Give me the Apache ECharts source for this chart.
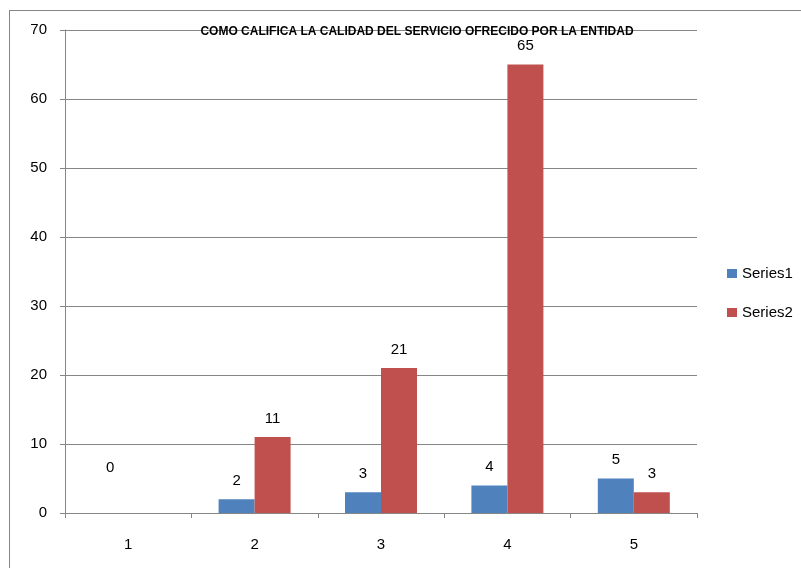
<!DOCTYPE html>
<html>
<head>
<meta charset="utf-8">
<script src="https://cdn.jsdelivr.net/npm/echarts@6/dist/echarts.min.js"></script>
<style>
  html, body { margin: 0; padding: 0; background: #fff; }
  #chart { width: 801px; height: 568px; }
</style>
</head>
<body>
<div id="chart"></div>
<script>
// Survey results: quality rating of the service offered by the entity
const chartTitle = 'COMO CALIFICA LA CALIDAD DEL SERVICIO OFRECIDO POR LA ENTIDAD';
const categories = ['1', '2', '3', '4', '5'];
const series1Values = [0, 2, 3, 4, 5];
const series2Values = [null, 11, 21, 65, 3];
const yTicks = { min: 0, max: 70, interval: 10 };

const FONT = '"Liberation Sans", Arial, sans-serif';

// Zero-height bars get their label lifted a bit higher so it stays readable
function toData(values) {
  return values.map(v => (v === 0 ? { value: v, label: { distance: 38 } } : v));
}

const chart = echarts.init(document.getElementById('chart'), null, { renderer: 'canvas' });

const labelStyle = {
  show: true,
  position: 'top',
  distance: 11,
  color: '#000',
  fontSize: 15,
  fontFamily: FONT
};

chart.setOption({
  animation: false,
  textStyle: { fontFamily: FONT },
  title: {
    text: chartTitle,
    left: 412,
    top: 21,
    textAlign: 'center',
    textStyle: { fontSize: 12, fontWeight: 'bold', color: '#000', fontFamily: FONT }
  },
  legend: {
    orient: 'vertical',
    left: 722,
    top: 261,
    itemWidth: 10,
    itemHeight: 9,
    itemGap: 24,
    icon: 'rect',
    textStyle: { fontSize: 15, color: '#000', fontFamily: FONT },
    data: ['Series1', 'Series2']
  },
  grid: { left: 65, right: 104, top: 30, bottom: 55, containLabel: false },
  xAxis: {
    type: 'category',
    data: categories,
    boundaryGap: true,
    axisLine: { lineStyle: { color: '#868686', width: 1 } },
    axisTick: { show: true, length: 5, alignWithLabel: false, lineStyle: { color: '#868686' } },
    axisLabel: { color: '#000', fontSize: 15, margin: 24, fontFamily: FONT },
    splitLine: { show: false }
  },
  yAxis: {
    type: 'value',
    min: yTicks.min,
    max: yTicks.max,
    interval: yTicks.interval,
    axisLine: { show: true, lineStyle: { color: '#868686', width: 1 } },
    axisTick: { show: true, length: 5, lineStyle: { color: '#868686' } },
    axisLabel: { color: '#000', fontSize: 15, margin: 18, fontFamily: FONT },
    splitLine: { show: true, lineStyle: { color: '#868686', width: 1 } }
  },
  series: [
    {
      name: 'Series1',
      type: 'bar',
      data: toData(series1Values),
      barWidth: 36,
      barGap: '0%',
      itemStyle: { color: '#4F81BD' },
      label: labelStyle
    },
    {
      name: 'Series2',
      type: 'bar',
      data: toData(series2Values),
      barWidth: 36,
      barGap: '0%',
      itemStyle: { color: '#C0504D' },
      label: labelStyle
    }
  ],
  graphic: [
    // chart-area frame (left and top edges)
    { type: 'line', shape: { x1: 9.5, y1: 10, x2: 9.5, y2: 568 }, style: { stroke: '#868686', lineWidth: 1 } },
    { type: 'line', shape: { x1: 9, y1: 10.5, x2: 801, y2: 10.5 }, style: { stroke: '#868686', lineWidth: 1 } }
  ]
});
</script>
</body>
</html>
